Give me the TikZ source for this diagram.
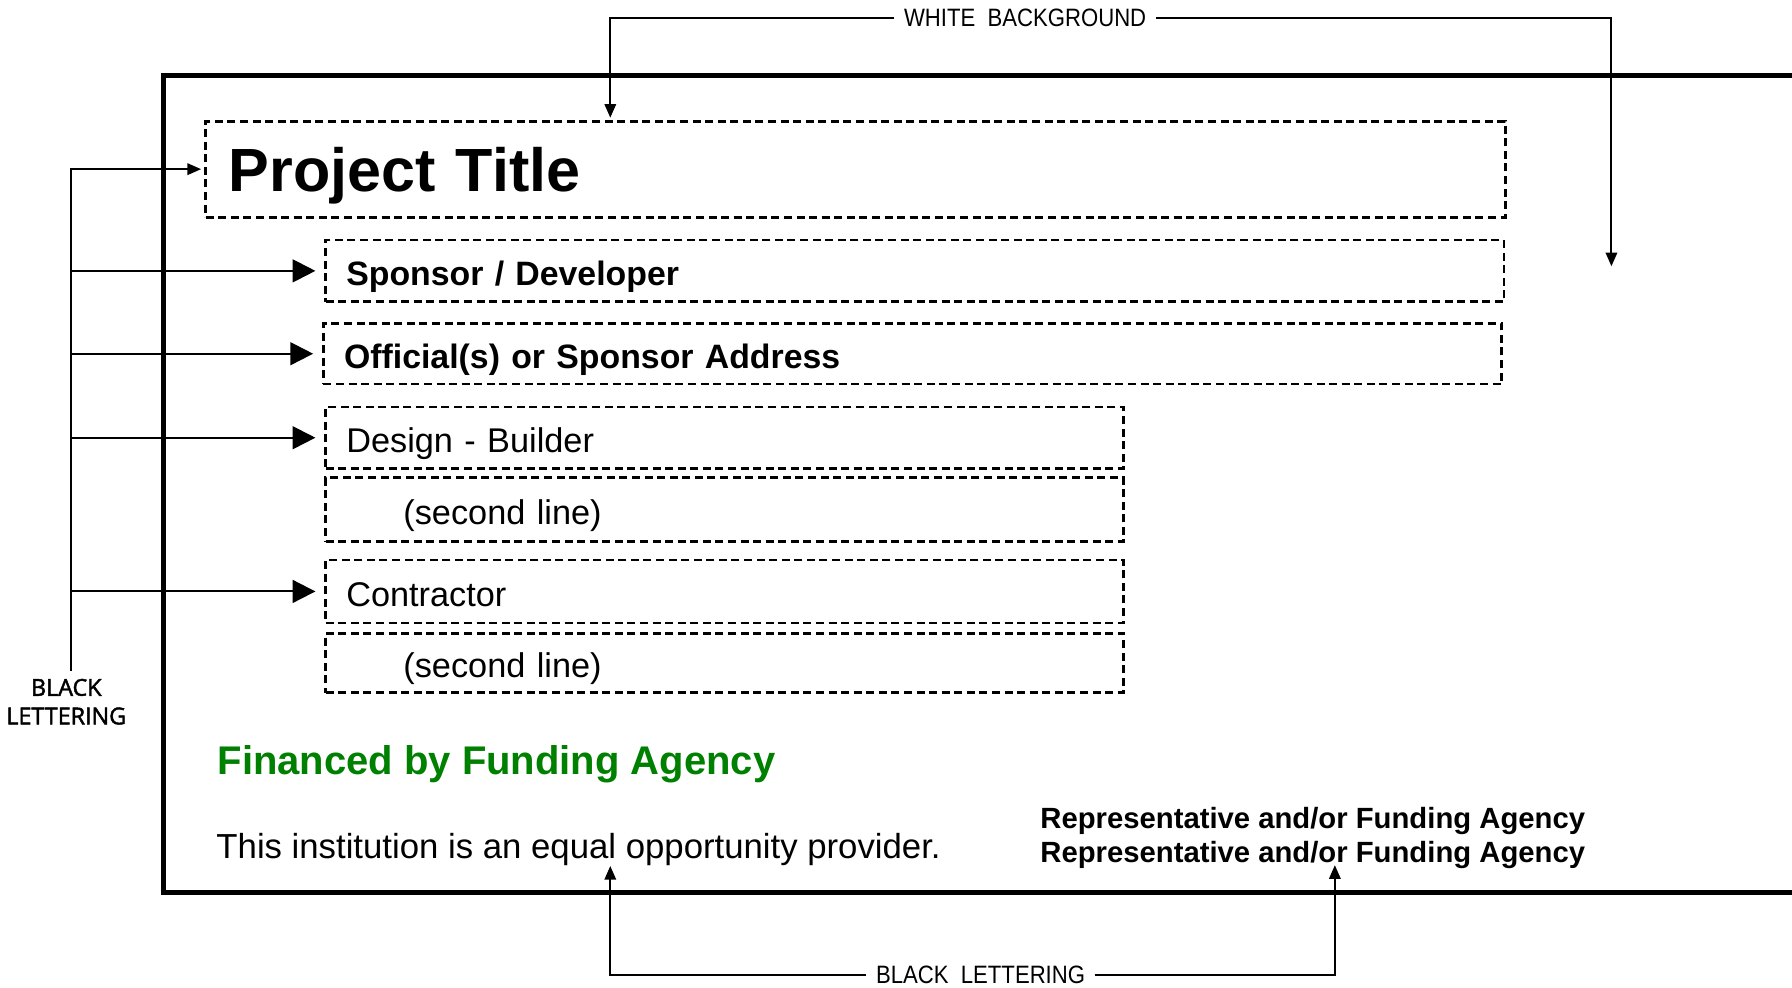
\documentclass[tikz,border=0pt]{standalone}
\usepackage{fontspec}
\setmainfont{Liberation Sans}
\newfontfamily\narrowfont{Liberation Sans}[FakeStretch=0.88]
\newfontfamily\tagfont{Open Sans}[FakeBold=2]
\usetikzlibrary{arrows.meta}
\definecolor{agencygreen}{RGB}{0,128,0}

\begin{document}
\begin{tikzpicture}[x=0.5pt, y=-0.5pt,
  frame/.style={line width=2.3pt},
  field/.style={draw, line width=1.2pt, dash pattern=on 3.5pt off 2pt, anchor=north west,
                inner xsep=9pt, inner ysep=0pt, outer sep=0pt, align=left,
                text height=13pt, text depth=0pt, font=\fontsize{15}{18}\selectfont},
  wide/.style={field, text width=497.5pt},
  narrow/.style={field, text width=331pt},
  plain/.style={anchor=base west, inner sep=0pt},
  callout/.style={font=\narrowfont\fontsize{11}{13}\selectfont, inner xsep=4pt},
  pointer/.style={line width=0.9pt, -{Triangle[length=6pt,width=5pt]}},
  bigpointer/.style={line width=0.9pt, -{Triangle[length=10pt,width=10pt]}, shorten >=4.5pt}]
\useasboundingbox (0,0) rectangle (1568,864);
% sign border, the right edge runs off the page
\draw[frame] (1568,66) -| (143,781) -- (1568,781);

% text fields
\node[field, text width=548.5pt, inner xsep=10pt, minimum height=42pt, text height=19.4pt,
      font=\fontsize{26.7}{32}\selectfont\bfseries] (title) at (180,106) {Project Title};
\node[wide, minimum height=27pt, font=\fontsize{14.8}{18}\selectfont\bfseries] (spon)
      at ([xshift=52.5pt,yshift=-10pt]title.south west) {Sponsor / Developer};
\node[wide, minimum height=26.5pt, font=\fontsize{14.8}{18}\selectfont\bfseries] (offc)
      at ([xshift=-1pt,yshift=-9.5pt]spon.south west) {Official(s) or Sponsor Address};
\node[narrow, minimum height=27pt] (design)
      at ([xshift=1pt,yshift=-10pt]offc.south west) {Design - Builder};
\node[narrow, minimum height=28pt] (design2)
      at ([yshift=-4pt]design.south west) {\hspace*{25pt}(second line)};
\node[narrow, minimum height=27.5pt] (contr)
      at ([yshift=-8pt]design2.south west) {Contractor};
\node[narrow, minimum height=26pt] (contr2)
      at ([yshift=-4.5pt]contr.south west) {\hspace*{25pt}(second line)};

% lower lines
\node[plain, text=agencygreen, font=\fontsize{17.5}{21}\selectfont\bfseries] (financed)
      at (190,678) {Financed by Funding Agency};
\node[plain, font=\fontsize{15.2}{18}\selectfont] (note)
      at (189,751) {This institution is an equal opportunity provider.};
\node[plain, font=\fontsize{12.8}{15}\selectfont\bfseries] (rep1)
      at (910,725) {Representative and/or Funding Agency};
\node[plain, font=\fontsize{12.8}{15}\selectfont\bfseries] (rep2)
      at (910,755) {Representative and/or Funding Agency};

% callouts
\node[callout] (bg) at (897,16) {WHITE\ \ BACKGROUND};
\coordinate (bgtip) at (1410,233);
\draw[pointer, shorten >=1.5pt] (bg.west) -| ([xshift=177pt]title.north west);
\draw[pointer] (bg.east) -| (bgtip);

\node[callout] (lettering) at (858,853) {BLACK\ \ LETTERING};
\draw[pointer] (lettering.west) -| ([xshift=172.5pt]note.south west);
\draw[pointer] (lettering.east) -| ([xshift=129pt,yshift=-1pt]rep2.base west);

\node[font=\tagfont\fontsize{10.2}{12.5}\selectfont, align=center] (tag) at (58,614) {BLACK\\LETTERING};
\coordinate (spine) at (62,148);
\draw[pointer, shorten >=2pt] (tag.north -| spine) -- (spine) -- (title.west);
\foreach \f in {spon, offc, design, contr}
  \draw[bigpointer] (spine |- \f.west) -- (\f.west);
\end{tikzpicture}
\end{document}
